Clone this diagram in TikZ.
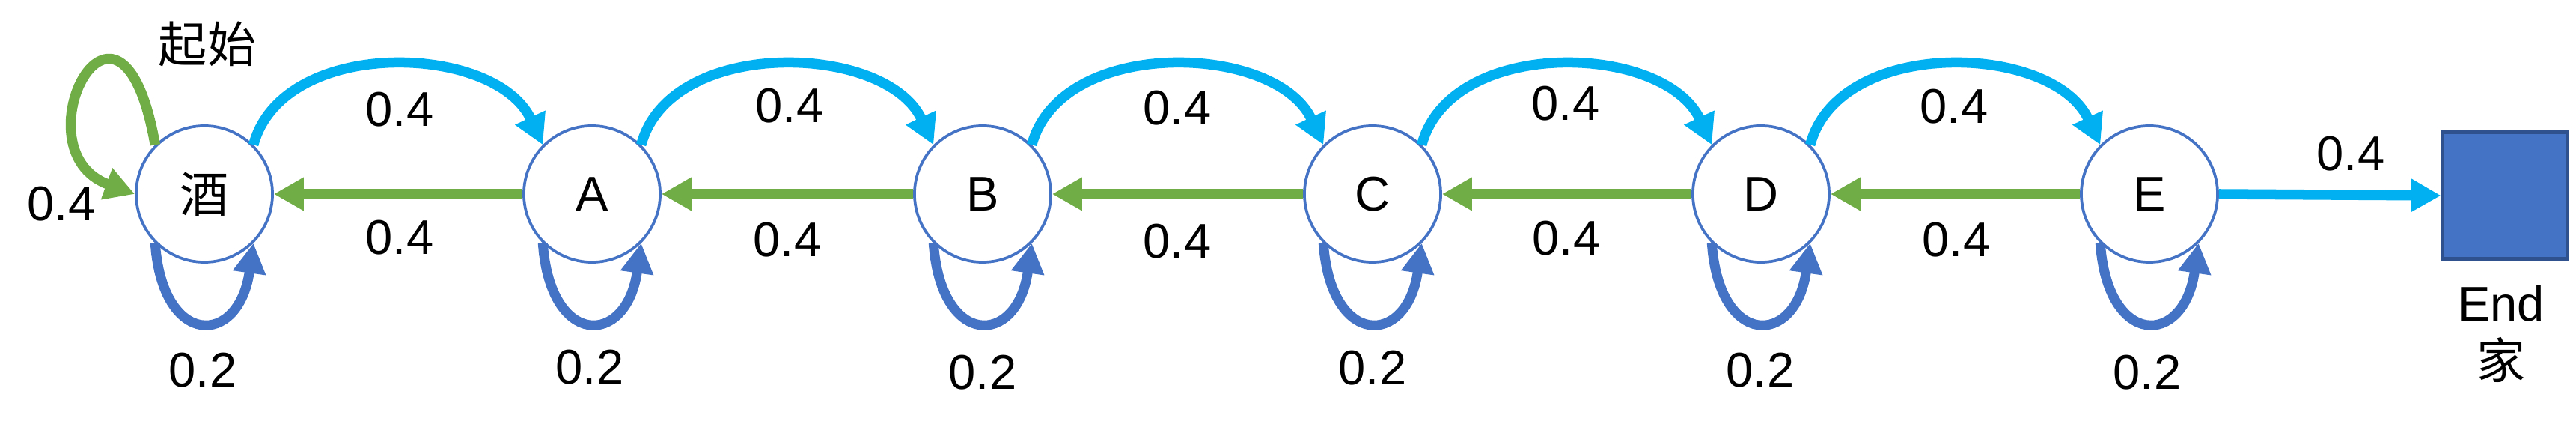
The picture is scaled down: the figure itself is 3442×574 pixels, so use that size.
\documentclass[tikz,border=0pt]{standalone}
\usepackage{fontspec}
\setmainfont{Liberation Sans}
\newfontfamily\cjk{Noto Sans CJK SC}
\usetikzlibrary{arrows.meta}
\definecolor{skyb}{HTML}{00B0F0}
\definecolor{grn}{HTML}{70AD47}
\definecolor{stblue}{HTML}{4472C4}
\definecolor{dkblue}{HTML}{2F528F}
\begin{document}
\begin{tikzpicture}[x=0.01cm,y=-0.01cm,
  state/.style={circle,draw=stblue,line width=0.037cm,fill=white,minimum size=1.82cm,inner sep=0pt,font=\fontsize{18.5}{22}\selectfont},
  lbl/.style={inner sep=0pt,font=\fontsize{18.5}{22}\selectfont},
  tipx/.style={-{Triangle[length=0.4cm,width=0.42cm]}},
  fwd/.style={tipx,draw=skyb,line width=0.135cm},
  back/.style={tipx,draw=grn,line width=0.135cm},
  selfl/.style={tipx,draw=stblue,line width=0.13cm},
  homebox/.style={rectangle,draw=dkblue,fill=stblue,line width=0.05cm,minimum width=1.66cm,minimum height=1.68cm,inner sep=0pt},
]
\useasboundingbox (0,0) rectangle (3442,574);
% states
\node[state] (s0) at (273,259) {\cjk 酒};
\node[state] (sA) at (791,259) {A};
\node[state] (sB) at (1313,259) {B};
\node[state] (sC) at (1834,259) {C};
\node[state] (sD) at (2353,259) {D};
\node[state] (sE) at (2872,259) {E};
\node[homebox] (home) at (3347,261) {};
% forward arcs
\draw[fwd] (s0.45) .. controls +(75:1.5cm) and +(115:1.5cm) .. (sA.135);
\draw[fwd] (sA.45) .. controls +(75:1.5cm) and +(115:1.5cm) .. (sB.135);
\draw[fwd] (sB.45) .. controls +(75:1.5cm) and +(115:1.5cm) .. (sC.135);
\draw[fwd] (sC.45) .. controls +(75:1.5cm) and +(115:1.5cm) .. (sD.135);
\draw[fwd] (sD.45) .. controls +(75:1.5cm) and +(115:1.5cm) .. (sE.135);
\draw[fwd] (sE.east) -- (home.west);
% backward arrows
\draw[back] (sA.west) -- (s0.east);
\draw[back] (sB.west) -- (sA.east);
\draw[back] (sC.west) -- (sB.east);
\draw[back] (sD.west) -- (sC.east);
\draw[back] (sE.west) -- (sD.east);
% start loop
\draw[back] (s0.135) .. controls +(100:2.7cm) and +(160:1.7cm) .. (s0.180);
% self loops
\foreach \n in {s0,sA,sB,sC,sD,sE}{
  \draw[selfl] (\n.-135) .. controls +(-86:1.4cm) and +(-98:1.4cm) .. (\n.-45);
}
% labels
\node[lbl] (start) at (277,59) {\cjk 起始};
\node[lbl] (lstart) at (82,272) {0.4};
\node[lbl] (t1) at (534,146) {0.4};
\node[lbl] (t2) at (1055,141) {0.4};
\node[lbl] (t3) at (1573,144) {0.4};
\node[lbl] (t4) at (2092,138) {0.4};
\node[lbl] (t5) at (2611,142) {0.4};
\node[lbl] (t6) at (3141,205) {0.4};
\node[lbl] (b1) at (534,317) {0.4};
\node[lbl] (b2) at (1052,320) {0.4};
\node[lbl] (b3) at (1573,322) {0.4};
\node[lbl] (b4) at (2093,318) {0.4};
\node[lbl] (b5) at (2614,320) {0.4};
\node[lbl] (p0) at (271,494) {0.2};
\node[lbl] (pA) at (788,490) {0.2};
\node[lbl] (pB) at (1313,497) {0.2};
\node[lbl] (pC) at (1834,491) {0.2};
\node[lbl] (pD) at (2352,494) {0.2};
\node[lbl] (pE) at (2869,497) {0.2};
\node[lbl] (endt) at (3342,405) {End};
\node[lbl] (jia) at (3342,480) {\cjk 家};
\end{tikzpicture}
\end{document}
